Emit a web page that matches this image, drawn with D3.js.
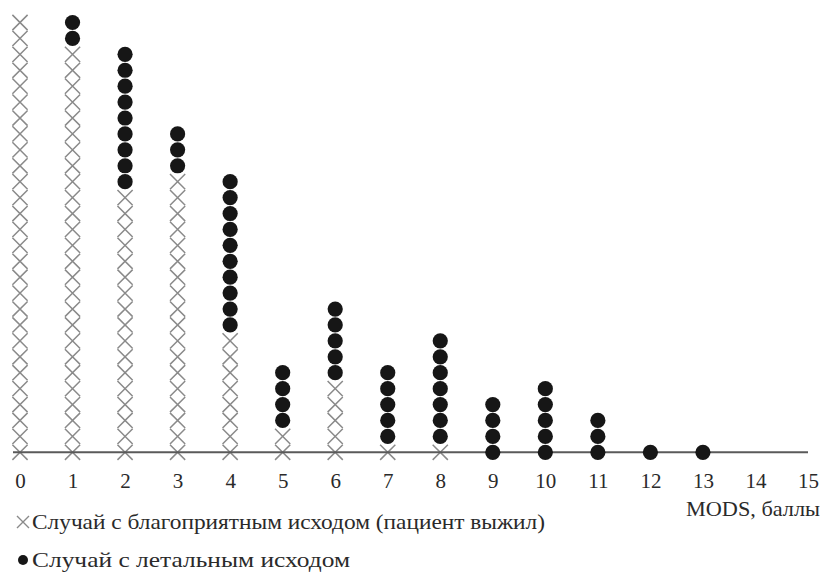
<!DOCTYPE html>
<html>
<head>
<meta charset="utf-8">
<script src="https://cdn.jsdelivr.net/npm/d3@7"></script>
<style>
  html, body { margin: 0; padding: 0; background: #fff; }
  svg { display: block; }
  text { font-family: "Liberation Serif", Tinos, "DejaVu Serif", serif; fill: #2a2a2a; }
</style>
</head>
<body>
<svg id="chart" width="822" height="579"></svg>
<script>
// MODS score (0..15) and number of cases per score
const scores = [0, 1, 2, 3, 4, 5, 6, 7, 8, 9, 10, 11, 12, 13, 14, 15];
const survived = [28, 26, 17, 18, 8, 2, 5, 1, 1, 0, 0, 0, 0, 0, 0, 0];
const died     = [0, 2, 9, 3, 10, 4, 5, 5, 7, 4, 5, 3, 1, 1, 0, 0];
const tickLabels = ["0","1","2","3","4","5","6","7","8","9","10","11","12","13","14","15"];
const axisTitle = "MODS, баллы";
const legendLabels = ["Случай с благоприятным исходом (пациент выжил)", "Случай с летальным исходом"];

const fontStack = "'Liberation Serif', Tinos, 'DejaVu Serif', serif";
const svg = d3.select("#chart");

const x = d3.scaleLinear().domain([0, 15]).range([20, 808]);
// stacked position of a case within its column (0 = on the axis)
const y = d3.scaleLinear().domain([0, 27]).range([452.3, 22.5]);

// one record per case: survivors at the bottom, deaths stacked above
const cases = [];
scores.forEach((s, i) => {
  for (let k = 0; k < survived[i]; k++) cases.push({ score: s, pos: k, outcome: "survived" });
  for (let k = 0; k < died[i]; k++) cases.push({ score: s, pos: survived[i] + k, outcome: "died" });
});

const half = 7.6;
const crossPath = `M${-half},${-half}L${half},${half}M${-half},${half}L${half},${-half}`;

svg.append("g").selectAll("path")
  .data(cases.filter(d => d.outcome === "survived"))
  .join("path")
  .attr("transform", d => `translate(${x(d.score)},${y(d.pos)})`)
  .attr("d", crossPath)
  .attr("fill", "none")
  .attr("stroke", "#8a8a8a")
  .attr("stroke-width", 1.5);

// horizontal axis with labels only
const axis = d3.axisBottom(x).tickValues(scores).tickFormat((d, i) => tickLabels[i]).tickSize(0).tickPadding(0);
const gAxis = svg.append("g").attr("transform", `translate(0,${y(0)})`).call(axis);
gAxis.attr("font-family", fontStack).attr("font-size", 21);
gAxis.select(".domain").remove();
gAxis.selectAll("text")
  .attr("dy", null)
  .attr("y", 36)
  .attr("fill", "#2a2a2a");
svg.append("line")
  .attr("x1", 13).attr("x2", 808)
  .attr("y1", y(0)).attr("y2", y(0))
  .attr("stroke", "#5a5a5a")
  .attr("stroke-width", 2);

svg.append("g").selectAll("circle")
  .data(cases.filter(d => d.outcome === "died"))
  .join("circle")
  .attr("cx", d => x(d.score))
  .attr("cy", d => y(d.pos))
  .attr("r", 7.6)
  .attr("fill", "#161616");

svg.append("text")
  .attr("x", 820).attr("y", 516)
  .attr("text-anchor", "end")
  .attr("font-family", fontStack)
  .attr("font-size", 21)
  .attr("textLength", 134)
  .attr("lengthAdjust", "spacingAndGlyphs")
  .text(axisTitle);

// legend
const lg = svg.append("g").attr("font-family", fontStack).attr("font-size", 21);
lg.append("path")
  .attr("transform", "translate(23,522)")
  .attr("d", "M-6,-6L6,6M-6,6L6,-6")
  .attr("stroke", "#8a8a8a").attr("stroke-width", 1.4).attr("fill", "none");
lg.append("text").attr("x", 32).attr("y", 529)
  .attr("textLength", 513).attr("lengthAdjust", "spacingAndGlyphs")
  .text(legendLabels[0]);
lg.append("circle").attr("cx", 23).attr("cy", 560).attr("r", 5).attr("fill", "#161616");
lg.append("text").attr("x", 32).attr("y", 567)
  .attr("textLength", 318).attr("lengthAdjust", "spacingAndGlyphs")
  .text(legendLabels[1]);
</script>
</body>
</html>
